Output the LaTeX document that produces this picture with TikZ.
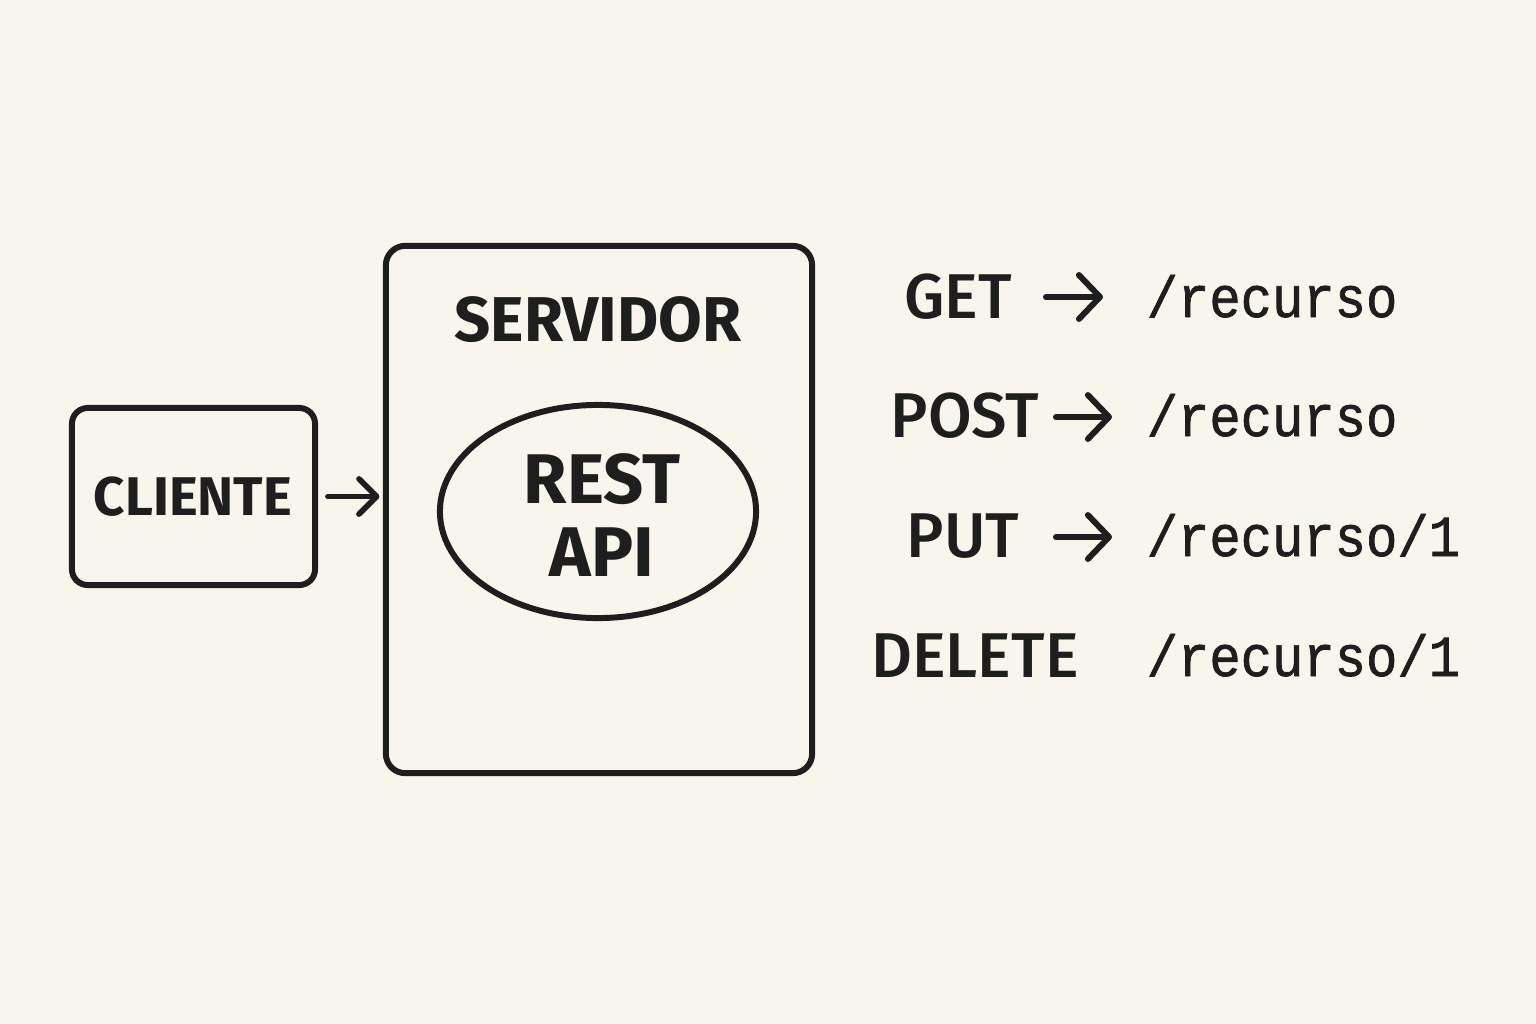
\documentclass[tikz,border=0pt]{standalone}
\usepackage{fontspec}
\setmainfont{Fira Sans}
\newfontfamily\titulofont{Fira Sans Bold}
\newfontfamily\metodofont{Fira Sans Medium}
\newfontfamily\rutafont[FakeBold=1.2, FakeStretch=0.9]{Liberation Mono}
\usetikzlibrary{arrows.meta,shapes.geometric}
\definecolor{fondo}{RGB}{248,245,236}
\definecolor{tinta}{RGB}{30,30,30}

\tikzset{
  caja/.style={draw=tinta, line width=1.7pt, rounded corners=4.5pt, inner sep=0pt},
  flecha/.style={draw=tinta, line width=1.6pt, line cap=round,
    -{Straight Barb[length=5pt,width=10pt,round]}},
  flechagrande/.style={flecha, line width=1.7pt,
    -{Straight Barb[length=6pt,width=12.5pt,round]}},
  titulo/.style={text=tinta, font=\titulofont\fontsize{18}{21}\selectfont, inner sep=0pt},
  metodo/.style={text=tinta, font=\metodofont\fontsize{18}{21}\selectfont, inner sep=0pt, anchor=base},
  ruta/.style={text=tinta, font=\rutafont\fontsize{16.5}{19}\selectfont, inner sep=0pt, anchor=base west},
}

\begin{document}
\begin{tikzpicture}[x=0.01cm, y=-0.01cm]
  \fill[fondo] (0,0) rectangle (1536,1024);
  \useasboundingbox (0,0) rectangle (1536,1024);

  % cliente y servidor
  \node[caja, minimum width=2.43cm, minimum height=1.77cm] (cliente) at (193.5,496.5) {};
  \node[titulo, font=\titulofont\fontsize{15.5}{18}\selectfont] (cliente-txt) at (193,497) {CLIENTE};
  \node[caja, rounded corners=5.5pt, minimum width=4.26cm, minimum height=5.27cm] (servidor) at (599,509.5) {};
  \node[titulo] (servidor-txt) at (598,320) {SERVIDOR};
  \node[draw=tinta, line width=1.7pt, ellipse, inner sep=0pt,
        minimum width=3.16cm, minimum height=2.13cm] (restapi) at (598,511.5) {};
  \node[titulo, align=center, font=\titulofont\fontsize{20}{20.5}\selectfont] (restapi-txt) at (602,515) {REST\\API};

  \draw[flecha, shorten <=2.8pt, shorten >=1pt] (cliente.east) -- (cliente.east -| servidor.west);

  % metodos HTTP
  \node[metodo] (get)    at (958,318) {GET};
  \node[metodo] (post)   at (965,437) {POST};
  \node[metodo] (put)    at (963,557) {PUT};
  \node[metodo] (delete) at (975,677) {DELETE};

  \node[ruta] (get-ruta)    at (1146,317) {/recurso};
  \node[ruta] (post-ruta)   at (1146,436) {/recurso};
  \node[ruta] (put-ruta)    at (1146,556) {/recurso/1};
  \node[ruta] (delete-ruta) at (1146,676) {/recurso/1};

  \coordinate (get-a)  at (1046,297);
  \coordinate (get-b)  at (1103,297);
  \coordinate (post-a) at (1056,417);
  \coordinate (post-b) at (1112,417);
  \coordinate (put-a)  at (1056,537);
  \coordinate (put-b)  at (1112,537);

  \draw[flechagrande] (get-a) -- (get-b);
  \draw[flechagrande] (post-a) -- (post-b);
  \draw[flechagrande] (put-a) -- (put-b);

\end{tikzpicture}
\end{document}
